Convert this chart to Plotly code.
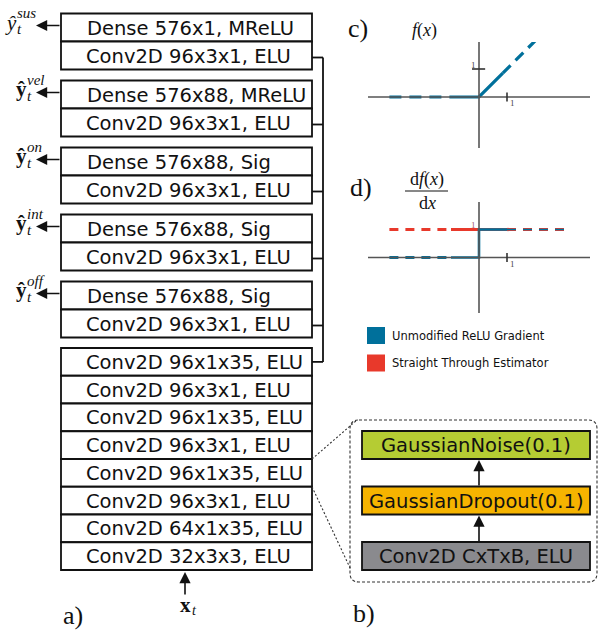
import plotly.graph_objects as go

# ---------------- data ----------------
head_dense = ["Dense 576x1, MReLU", "Dense 576x88, MReLU", "Dense 576x88, Sig",
              "Dense 576x88, Sig", "Dense 576x88, Sig"]
head_conv = ["Conv2D 96x3x1, ELU"] * 5
head_out_sup = ["sus", "vel", "on", "int", "off"]
head_out_bold = [False, True, True, True, True]
stack_layers = ["Conv2D 96x1x35, ELU", "Conv2D 96x3x1, ELU", "Conv2D 96x1x35, ELU",
                "Conv2D 96x3x1, ELU", "Conv2D 96x1x35, ELU", "Conv2D 96x3x1, ELU",
                "Conv2D 64x1x35, ELU", "Conv2D 32x3x3, ELU"]
block_layers = ["GaussianNoise(0.1)", "GaussianDropout(0.1)", "Conv2D CxTxB, ELU"]
block_colors = ["#b5cc33", "#f6b400", "#8a8a8e"]

# panel c: ReLU f(x)
relu_dash_l_x = [-3.2, -1.0]; relu_dash_l_y = [0.0, 0.0]
relu_solid_x = [-1.0, 0.0, 0.85]; relu_solid_y = [0.0, 0.0, 0.85]
relu_dash_r_x = [0.85, 2.1]; relu_dash_r_y = [0.85, 2.1]
# panel d: gradients
grad_dash_l_x = [-3.2, -1.0]; grad_dash_l_y = [0.0, 0.0]
grad_solid_x = [-1.0, 0.0, 0.0, 1.0]; grad_solid_y = [0.0, 0.0, 1.0, 1.0]
grad_dash_r_x = [1.0, 3.2]; grad_dash_r_y = [1.0, 1.0]
ste_dash_l_x = [-3.2, -1.0]; ste_dash_l_y = [1.0, 1.0]
ste_solid_x = [-1.0, 1.0]; ste_solid_y = [1.0, 1.0]
ste_dash_r_x = [1.0, 3.2]; ste_dash_r_y = [1.0, 1.0]
legend_labels = ["Unmodified ReLU Gradient", "Straight Through Estimator"]

BLUE = "#00709b"
RED = "#e8392b"
INK = "#111111"
AX = "#555555"
W, H = 598, 633
SANS = "DejaVu Sans"
SERIF = "Liberation Serif"

fig = go.Figure()
shapes = []
ann = []

def rect(x0, y0, x1, y1, fill="white", lw=1.8):
    shapes.append(dict(type="rect", xref="x", yref="y", x0=x0, x1=x1, y0=y0, y1=y1,
                       line=dict(color=INK, width=lw), fillcolor=fill, layer="above"))

def line(x0, y0, x1, y1, color=INK, width=1.8, dash=None, xref="x", yref="y"):
    d = dict(type="line", xref=xref, yref=yref, x0=x0, x1=x1, y0=y0, y1=y1,
             line=dict(color=color, width=width), layer="above")
    if dash:
        d["line"]["dash"] = dash
    shapes.append(d)

def text(x, y, s, size=19.5, fam=SANS, xa="left", color=INK, xref="x", yref="y"):
    ann.append(dict(x=x, y=y, xref=xref, yref=yref, text=s, showarrow=False,
                    xanchor=xa, yanchor="middle", font=dict(size=size, family=fam, color=color)))

def arrow(xh, yh, ax, ay, width=1.6):
    ann.append(dict(x=xh, y=yh, xref="x", yref="y", ax=ax, ay=ay, axref="pixel", ayref="pixel",
                    text="", showarrow=True, arrowhead=2, arrowsize=1.4, arrowwidth=width,
                    arrowcolor=INK, standoff=0, startstandoff=0))

# ---------------- panel a ----------------
BL, BR = 61, 312
ROW = 28
G0, GS = 13.5, 67
CONN_X = 323
TX = 83.5
conn_ys = []
for i, (dl, cl, sup, bold) in enumerate(zip(head_dense, head_conv, head_out_sup, head_out_bold)):
    top = G0 + i * GS
    rect(BL, top, BR, top + ROW)
    rect(BL, top + ROW, BR, top + 2 * ROW)
    text(TX + 1.5, top + ROW / 2 + 0.5, dl)
    text(TX, top + 1.5 * ROW + 0.5, cl)
    cy = top + 1.5 * ROW + 2
    conn_ys.append(cy)
    line(BR, cy, CONN_X, cy)
    ya = top + 12
    arrow(36, ya, 25, 0)
    if bold:
        text(28.5, ya - 4, "<b>ŷ</b>", size=21, fam=SERIF, xa="right")
        text(25, ya - 13, "<i>%s</i>" % sup, size=15, fam=SERIF)
        text(25, ya + 3, "<i>t</i>", size=15, fam=SERIF)
    else:
        text(18.5, ya - 3, "<i>ŷ</i>", size=21, fam=SERIF, xa="right")
        text(15, ya - 13, "<i>%s</i>" % sup, size=15, fam=SERIF)
        text(15, ya + 3, "<i>t</i>", size=15, fam=SERIF)

ST, SR = 348, 27.75
for j, lab in enumerate(stack_layers):
    y0 = ST + j * SR
    rect(BL, y0, BR, y0 + SR)
    text(TX, y0 + SR / 2 + 0.5, lab)
cy = ST + SR / 2
conn_ys.append(cy)
line(BR, cy, CONN_X, cy)
line(CONN_X, conn_ys[0], CONN_X, cy)

sb = ST + len(stack_layers) * SR
arrow(185, sb + 2, 0, 24)
text(193, sb + 35, "<b>x</b>", size=21, fam=SERIF, xa="right")
text(190, sb + 40, "<i>t</i>", size=14, fam=SERIF)
text(61, 615, "a)", size=26, fam=SERIF)

# ---------------- panel b ----------------
x0, x1, y0, y1, r = 350, 597, 420, 582, 9
shapes.append(dict(type="path", xref="x", yref="y",
                   path=(f"M {x0+r},{y0} L {x1-r},{y0} Q {x1},{y0} {x1},{y0+r} L {x1},{y1-r} "
                         f"Q {x1},{y1} {x1-r},{y1} L {x0+r},{y1} Q {x0},{y1} {x0},{y1-r} "
                         f"L {x0},{y0+r} Q {x0},{y0} {x0+r},{y0} Z"),
                   line=dict(color="#333333", width=1.1, dash="3px,2px")))
line(BR, ST + 4 * SR, 357, y0, color="#333333", width=1.1, dash="2px,2px")
line(BR, ST + 5 * SR, 351, 570, color="#333333", width=1.1, dash="2px,2px")
BX0, BX1 = 362, 590
block_tops = [431, 486.5, 542]
for lab, col, t in zip(block_layers, block_colors, block_tops):
    rect(BX0, t, BX1, t + ROW, fill=col)
    text((BX0 + BX1) / 2, t + ROW / 2 + 0.5, lab, xa="center")
arrow(479, block_tops[0] + ROW + 1, 0, 27)
arrow(479, block_tops[1] + ROW + 1, 0, 27)
text(351, 613, "b)", size=26, fam=SERIF)

# ---------------- panels c and d (function plots) ----------------
UNIT = 28.0
def panel(xname, yname, ox, oy, left, right, top, bottom):
    fig.layout[xname] = dict(domain=[left / W, right / W], range=[(left - ox) / UNIT, (right - ox) / UNIT],
                             visible=False, fixedrange=True, anchor=yname.replace("axis", ""))
    fig.layout[yname] = dict(domain=[1 - bottom / H, 1 - top / H], range=[(oy - bottom) / UNIT, (oy - top) / UNIT],
                             visible=False, fixedrange=True, anchor=xname.replace("axis", ""))
    return (left - ox) / UNIT, (right - ox) / UNIT, (oy - bottom) / UNIT, (oy - top) / UNIT

cx = panel("xaxis2", "yaxis2", 479, 97, 368, 590, 42, 148)
dx = panel("xaxis3", "yaxis3", 479, 257.5, 368, 590, 202, 313)

for (xr, yr, ext) in [("x2", "y2", cx), ("x3", "y3", dx)]:
    line(ext[0], 0, ext[1], 0, color=AX, width=1.6, xref=xr, yref=yr)
    line(0, ext[2], 0, ext[3], color=AX, width=1.6, xref=xr, yref=yr)
    line(1, -0.16, 1, 0.16, color="#333", width=1.6, xref=xr, yref=yr)
    text(1.05, -0.22, "1", size=9, fam=SERIF, color="#444", xref=xr, yref=yr)
line(-0.25, 1, 0.22, 1, color="#333", width=1.6, xref="x2", yref="y2")
text(-0.02, 1.15, "1", size=9, fam=SERIF, color="#444", xa="right", xref="x2", yref="y2")
text(-0.02, 1.15, "1", size=9, fam=SERIF, color="#a06070", xa="right", xref="x3", yref="y3")

def tr(x, y, color, dash, xa, ya, width=3.2):
    fig.add_trace(go.Scatter(x=x, y=y, xaxis=xa, yaxis=ya, mode="lines", hoverinfo="skip",
                             showlegend=False, line=dict(color=color, width=width, dash=dash)))

tr(relu_dash_l_x, relu_dash_l_y, BLUE, "12px,8px", "x2", "y2")
tr(relu_solid_x, relu_solid_y, BLUE, "solid", "x2", "y2")
tr(relu_dash_r_x, relu_dash_r_y, BLUE, "11px,7px", "x2", "y2")

tr(ste_dash_l_x, ste_dash_l_y, RED, "9px,7px", "x3", "y3")
tr(ste_solid_x, ste_solid_y, RED, "solid", "x3", "y3")
tr(ste_dash_r_x, ste_dash_r_y, RED, "9px,7px", "x3", "y3")
tr(grad_dash_l_x, grad_dash_l_y, BLUE, "9px,7px", "x3", "y3")
tr(grad_solid_x, grad_solid_y, BLUE, "solid", "x3", "y3", width=2.6)
tr(grad_dash_r_x, grad_dash_r_y, BLUE, "9px,7px", "x3", "y3", width=1.6)

text(346, 28, "c)", size=26, fam=SERIF)
text(410, 30, "<i>f</i>(<i>x</i>)", size=18, fam=SERIF)
text(348, 187, "d)", size=26, fam=SERIF)
text(426.5, 179.5, "d<i>f</i>(<i>x</i>)", size=18, fam=SERIF, xa="center")
line(405, 191, 448, 191, width=1)
text(427, 203, "d<i>x</i>", size=18, fam=SERIF, xa="center")

# legend
for k, (lab, col) in enumerate(zip(legend_labels, [BLUE, RED])):
    yy = 335.5 + k * 27.5
    shapes.append(dict(type="rect", xref="x", yref="y", x0=367, x1=385, y0=yy - 8.5, y1=yy + 8.5,
                       fillcolor=col, line=dict(width=0)))
    text(389.5, yy, lab, size=11.5)

# dummy trace so the main pixel axes exist
fig.add_trace(go.Scatter(x=[None], y=[None], xaxis="x", yaxis="y", showlegend=False, hoverinfo="skip"))

fig.update_layout(
    width=W, height=H, margin=dict(l=0, r=0, t=0, b=0),
    paper_bgcolor="white", plot_bgcolor="rgba(0,0,0,0)",
    xaxis=dict(domain=[0, 1], range=[0, W], visible=False, fixedrange=True),
    yaxis=dict(domain=[0, 1], range=[H, 0], visible=False, fixedrange=True),
    shapes=shapes, annotations=ann, showlegend=False,
)
fig.write_html("out.html", config={"displayModeBar": False},
               post_script="document.body.style.margin='0';document.body.style.overflow='hidden';")
